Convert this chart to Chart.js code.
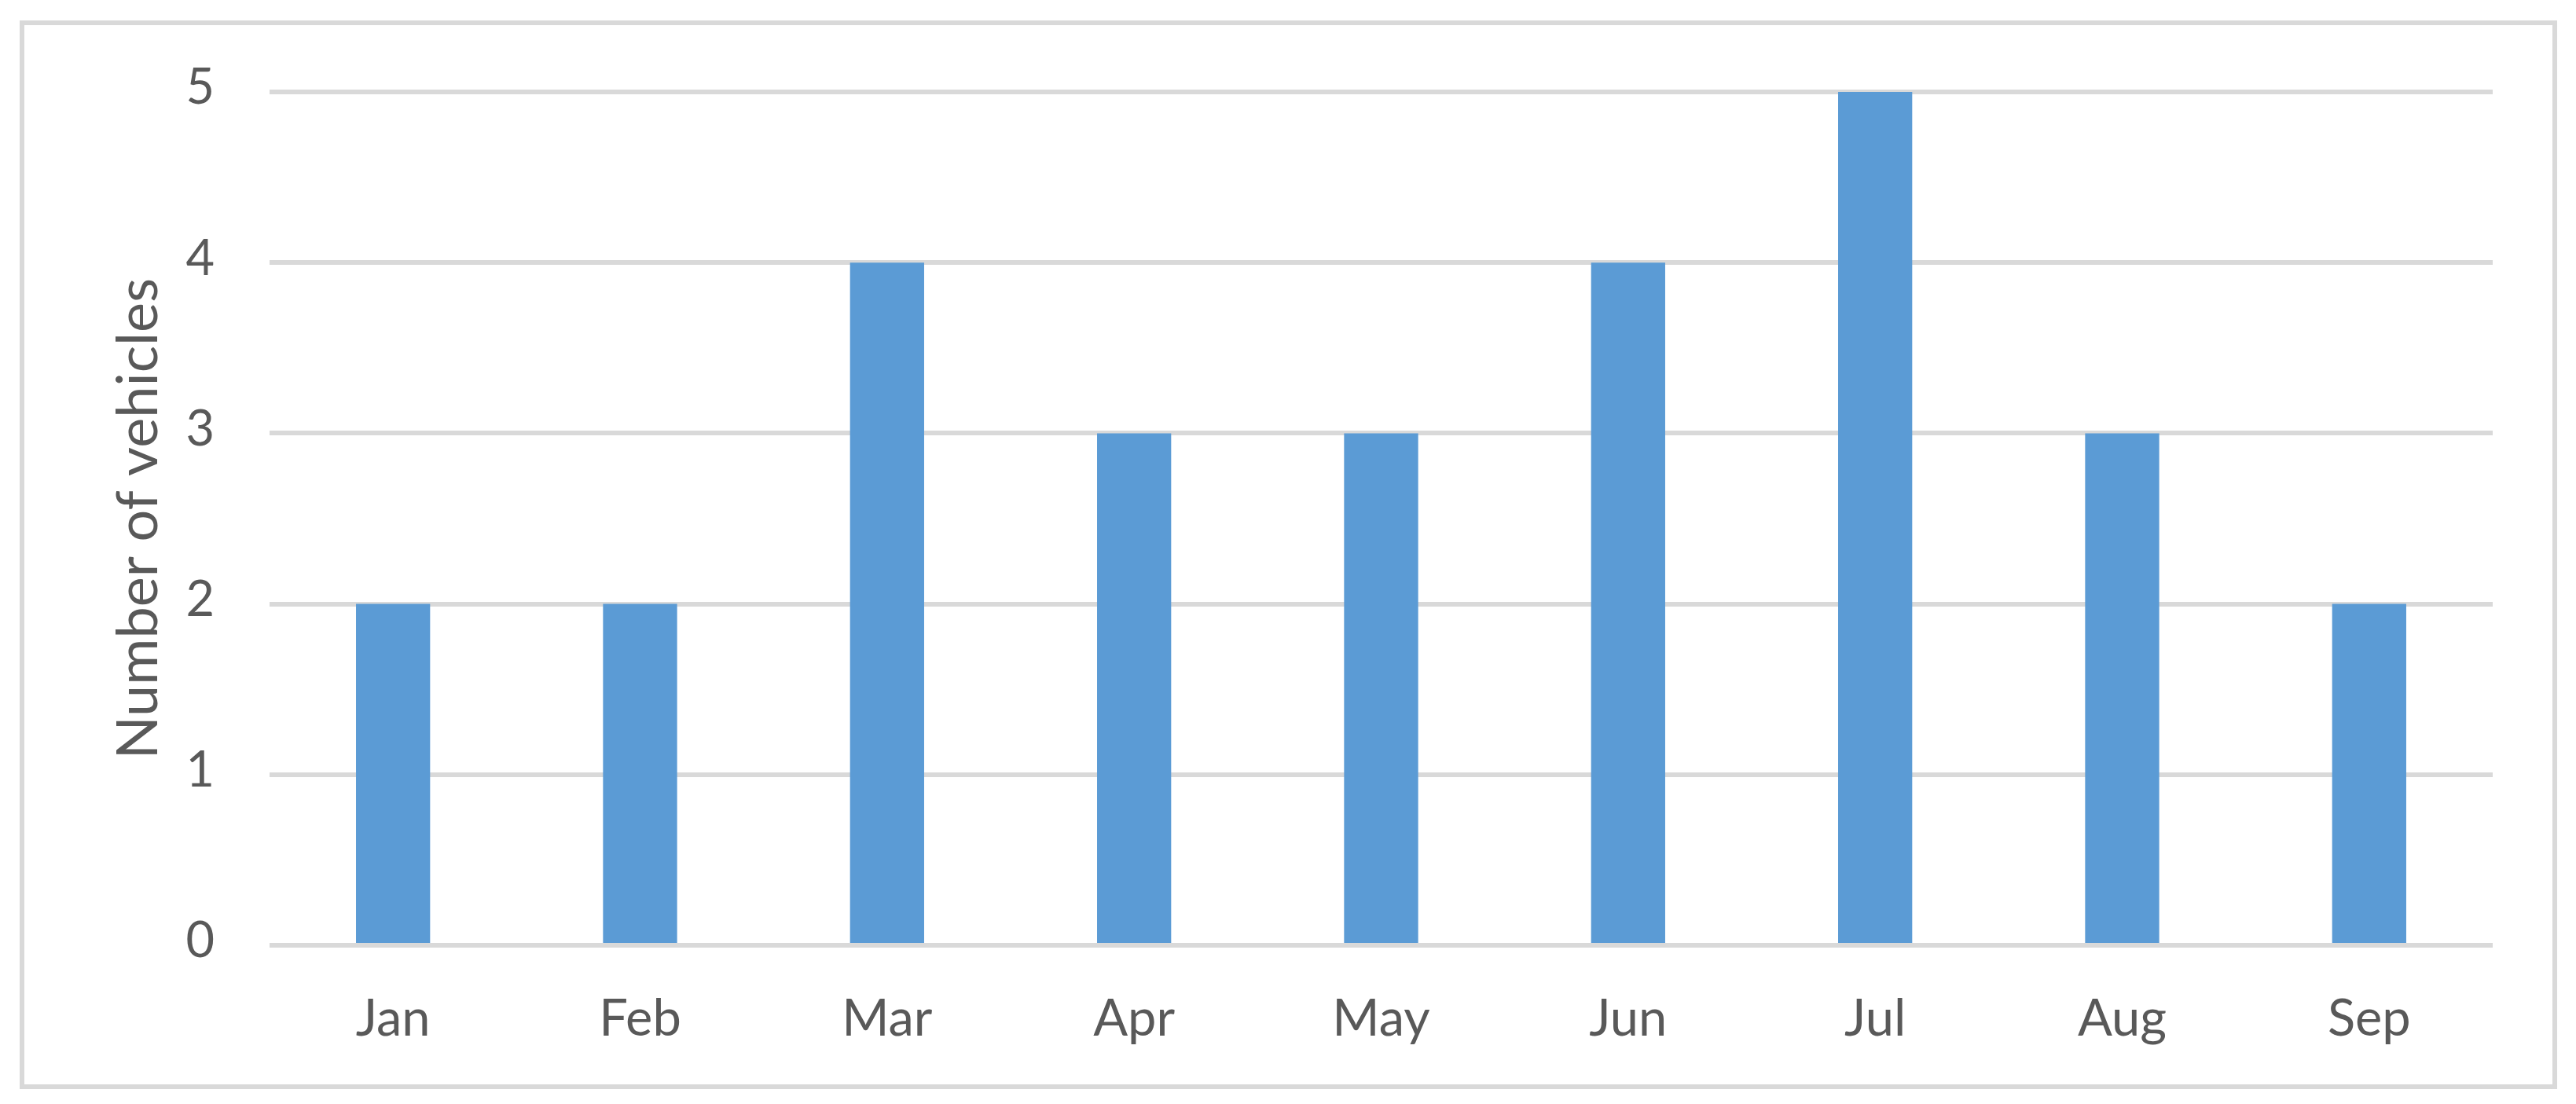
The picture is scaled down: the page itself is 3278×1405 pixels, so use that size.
<!DOCTYPE html>
<html>
<head>
<meta charset="utf-8">
<script src="https://cdn.jsdelivr.net/npm/chart.js@4/dist/chart.umd.min.js"></script>
<style>
  html, body { margin: 0; padding: 0; background: #ffffff; }
  #wrap { position: relative; width: 3278px; height: 1405px; }
  #frame { position: absolute; left: 25px; top: 26px; width: 3217px; height: 1348px;
           border: 6px solid #d9d9d9; pointer-events: none; }
  canvas { position: absolute; left: 0; top: 0; }
</style>
</head>
<body>
<div id="wrap">
  <canvas id="c" width="3278" height="1405"></canvas>
  <div id="frame"></div>
</div>
<script>
const categories = ['Jan', 'Feb', 'Mar', 'Apr', 'May', 'Jun', 'Jul', 'Aug', 'Sep'];
const vehicles = [2, 2, 4, 3, 3, 4, 5, 3, 2];
const yTickValues = [0, 1, 2, 3, 4, 5];
const yAxisTitle = 'Number of vehicles';

const FONT = 'Lato, "Open Sans", sans-serif';
const TEXT = '#595959';

new Chart(document.getElementById('c'), {
  type: 'bar',
  data: {
    labels: categories,
    datasets: [{
      data: vehicles,
      backgroundColor: '#5b9bd5',
      borderWidth: 0,
      categoryPercentage: 1.0,
      barPercentage: 0.3
    }]
  },
  options: {
    responsive: false,
    animation: false,
    devicePixelRatio: 1,
    layout: { padding: { left: 0, top: 117, right: 106, bottom: 0 } },
    plugins: { legend: { display: false }, tooltip: { enabled: false } },
    scales: {
      x: {
        grid: { display: false, drawTicks: false },
        border: { display: false },
        ticks: { color: TEXT, font: { family: FONT, size: 65 }, padding: 55, maxRotation: 0 },
        afterFit: (s) => { s.height = 202; }
      },
      y: {
        min: 0,
        max: 5,
        afterBuildTicks: (s) => { s.ticks = yTickValues.map(v => ({ value: v })); },
        grid: { color: '#d9d9d9', lineWidth: 6, drawTicks: false },
        border: { display: false },
        ticks: { color: TEXT, font: { family: FONT, size: 63 }, padding: 70, labelOffset: -5 },
        title: {
          display: true,
          text: yAxisTitle,
          color: TEXT,
          font: { family: FONT, size: 72 },
          padding: { top: 134, bottom: 0 }
        },
        afterFit: (s) => { s.width = 343; }
      }
    }
  }
});
</script>
</body>
</html>
